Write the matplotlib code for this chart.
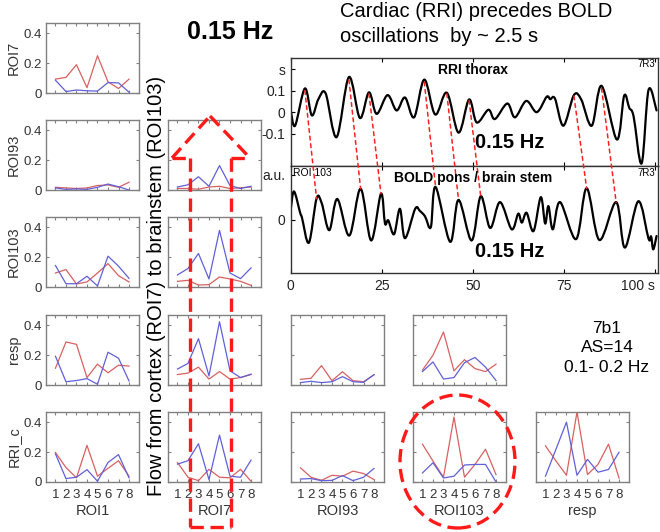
import matplotlib
matplotlib.use("Agg")
import matplotlib.pyplot as plt
from matplotlib.patches import Ellipse, ConnectionPatch, PathPatch
from matplotlib.lines import Line2D
from matplotlib.path import Path

plt.rcParams['font.family'] = ['Liberation Sans', 'DejaVu Sans']

# ---------------- data ----------------
lags = [1, 2, 3, 4, 5, 6, 7, 8]
row_names = ['ROI7', 'ROI93', 'ROI103', 'resp', 'RRI_c']
col_names = ['ROI1', 'ROI7', 'ROI93', 'ROI103', 'resp']

# small panels: red / blue curves, named <row>_<col>
roi7_roi1_red = [0.093, 0.105, 0.19, 0.036, 0.25, 0.075, 0.03, 0.093]
roi7_roi1_blue = [0.086, 0.01, 0.02, 0.015, 0.013, 0.07, 0.068, 0.005]

roi93_roi1_red = [0.018, 0.014, 0.01, 0.014, 0.03, 0.034, 0.018, 0.052]
roi93_roi1_blue = [0.014, 0.004, 0.007, 0.004, 0.018, 0.04, 0.022, 0.0]
roi93_roi7_red = [0.01, 0.01, 0.005, 0.02, 0.025, 0.01, 0.015, 0.02]
roi93_roi7_blue = [0.02, 0.035, 0.089, 0.025, 0.164, 0.03, 0.01, 0.025]

roi103_roi1_red = [0.094, 0.117, 0.02, 0.034, 0.094, 0.157, 0.076, 0.034]
roi103_roi1_blue = [0.144, 0.022, 0.022, 0.072, 0.007, 0.207, 0.14, 0.058]
roi103_roi7_red = [0.038, 0.045, 0.013, 0.016, 0.067, 0.054, 0.038, 0.011]
roi103_roi7_blue = [0.081, 0.124, 0.225, 0.054, 0.38, 0.094, 0.056, 0.128]

resp_roi1_red = [0.113, 0.289, 0.273, 0.05, 0.14, 0.082, 0.133, 0.127]
resp_roi1_blue = [0.193, 0.022, 0.03, 0.043, 0.005, 0.22, 0.18, 0.027]
resp_roi7_red = [0.07, 0.08, 0.12, 0.04, 0.09, 0.04, 0.05, 0.07]
resp_roi7_blue = [0.107, 0.145, 0.311, 0.061, 0.425, 0.095, 0.05, 0.073]
resp_roi93_red = [0.038, 0.045, 0.13, 0.029, 0.089, 0.029, 0.022, 0.069]
resp_roi93_blue = [0.016, 0.025, 0.016, 0.022, 0.056, 0.022, 0.018, 0.069]
resp_roi103_red = [0.10, 0.20, 0.356, 0.095, 0.17, 0.11, 0.09, 0.14]
resp_roi103_blue = [0.09, 0.155, 0.04, 0.05, 0.15, 0.185, 0.12, 0.03]

rric_roi1_red = [0.198, 0.097, 0.028, 0.246, 0.039, 0.092, 0.143, 0.039]
rric_roi1_blue = [0.189, 0.023, 0.032, 0.083, 0.005, 0.131, 0.184, 0.028]
rric_roi7_red = [0.131, 0.032, 0.009, 0.085, 0.032, 0.028, 0.085, 0.005]
rric_roi7_blue = [0.12, 0.143, 0.257, 0.016, 0.315, 0.039, 0.032, 0.147]
rric_roi93_red = [0.095, 0.032, 0.011, 0.045, 0.039, 0.073, 0.057, 0.016]
rric_roi93_blue = [0.02, 0.023, 0.009, 0.011, 0.043, 0.009, 0.032, 0.091]
rric_roi103_red = [0.254, 0.141, 0.032, 0.436, 0.032, 0.118, 0.22, 0.05]
rric_roi103_blue = [0.061, 0.129, 0.027, 0.039, 0.114, 0.118, 0.118, 0.0]
rric_resp_red = [0.243, 0.141, 0.045, 0.47, 0.05, 0.118, 0.254, 0.027]
rric_resp_blue = [0.039, 0.22, 0.402, 0.045, 0.152, 0.066, 0.084, 0.2]

# time series (s, value)
rri_t = [0.0, 1.2, 3.9, 5.8, 7.6, 9.6, 12.6, 16.0, 19.0, 21.5, 23.6, 26.6, 29.1, 31.4,
         33.9, 36.7, 39.7, 42.9, 46.1, 49.0, 51.1, 54.3, 56.1, 59.5, 61.6, 64.7, 67.6,
         70.3, 71.3, 72.6, 74.9, 77.8, 79.8, 82.7, 85.4, 89.6, 91.6, 93.0, 94.2, 96.4,
         98.3, 100.5]
rri_v = [0.01, -0.063, 0.11, -0.015, 0.06, 0.087, -0.116, 0.163, -0.027, 0.092, -0.008,
         0.079, 0.008, 0.068, -0.024, 0.151, -0.011, 0.09, -0.095, 0.059, -0.048, 0.011,
         -0.032, 0.04, -0.024, 0.052, 0.0, 0.071, 0.06, 0.063, -0.063, 0.079, 0.059,
         -0.063, 0.122, -0.127, 0.076, 0.02, -0.02, -0.238, 0.103, 0.008]

bold_t = [0.0, 0.9, 2.6, 3.1, 5.0, 7.1, 8.5, 10.6, 12.8, 16.1, 19.2, 22.1, 24.8, 25.9,
          26.8, 28.4, 30.0, 31.4, 34.2, 35.5, 36.9, 38.5, 39.8, 43.8, 46.1, 49.7, 52.2,
          54.8, 57.5, 60.7, 62.5, 63.5, 64.8, 66.7, 68.7, 69.9, 70.8, 72.0, 74.0, 78.4,
          81.3, 84.8, 89.4, 91.8, 95.5, 98.3, 99.0, 99.6, 100.5]
bold_v = [0.22, 0.63, 0.15, 0.04, -0.52, 0.47, 0.37, -0.24, 0.46, -0.36, 0.69, -0.47,
          0.58, -0.09, -0.02, -0.33, 0.24, -0.42, 0.24, 0.19, 0.07, -0.17, 0.73, -0.50,
          0.44, -0.47, 0.52, -0.19, 0.39, -0.22, 0.13, -0.07, 0.15, -0.26, 0.50, -0.09,
          0.30, -0.22, 0.39, -0.44, 0.70, -0.46, 0.39, -0.63, 0.41, -0.43, -0.38, -0.67,
          -0.37]

# peaks linked by the red dashed lines (RRI peak -> BOLD peak)
link_rri_t = [3.9, 16.0, 21.5, 36.7, 42.9, 49.0, 77.8, 85.4]
link_rri_v = [0.10, 0.15, 0.085, 0.14, 0.085, 0.055, 0.075, 0.11]
link_bold_t = [7.1, 19.2, 24.8, 39.8, 46.1, 52.2, 81.3, 89.4]
link_bold_v = [0.47, 0.69, 0.58, 0.73, 0.44, 0.52, 0.70, 0.39]

panels = [
    (0, 0, roi7_roi1_red, roi7_roi1_blue),
    (1, 0, roi93_roi1_red, roi93_roi1_blue),
    (1, 1, roi93_roi7_red, roi93_roi7_blue),
    (2, 0, roi103_roi1_red, roi103_roi1_blue),
    (2, 1, roi103_roi7_red, roi103_roi7_blue),
    (3, 0, resp_roi1_red, resp_roi1_blue),
    (3, 1, resp_roi7_red, resp_roi7_blue),
    (3, 2, resp_roi93_red, resp_roi93_blue),
    (3, 3, resp_roi103_red, resp_roi103_blue),
    (4, 0, rric_roi1_red, rric_roi1_blue),
    (4, 1, rric_roi7_red, rric_roi7_blue),
    (4, 2, rric_roi93_red, rric_roi93_blue),
    (4, 3, rric_roi103_red, rric_roi103_blue),
    (4, 4, rric_resp_red, rric_resp_blue),
]

# ---------------- layout (pixels) ----------------
W, H = 660, 532
fig = plt.figure(figsize=(W / 100, H / 100), dpi=100)


def px_axes(x, y, w, h):
    return fig.add_axes([x / W, 1 - (y + h) / H, w / W, h / H])


def px_text(x, y, s, **kw):
    return fig.text(x / W, 1 - y / H, s, **kw)


def smooth_line(ax, xs, ys, **kw):
    # draw the read points as one smooth curve (Catmull-Rom as cubic Beziers)
    pts = list(zip(xs, ys))
    verts = [pts[0]]
    codes = [Path.MOVETO]
    n = len(pts)
    for i in range(n - 1):
        p0 = pts[max(i - 1, 0)]
        p1 = pts[i]
        p2 = pts[i + 1]
        p3 = pts[min(i + 2, n - 1)]
        c1 = (p1[0] + (p2[0] - p0[0]) / 6, p1[1] + (p2[1] - p0[1]) / 6)
        c2 = (p2[0] - (p3[0] - p1[0]) / 6, p2[1] - (p3[1] - p1[1]) / 6)
        verts += [c1, c2, p2]
        codes += [Path.CURVE4] * 3
    patch = PathPatch(Path(verts, codes), fill=False, transform=ax.transData,
                      capstyle='round', joinstyle='round', **kw)
    patch.set_clip_path(ax.patch)
    ax.add_patch(patch)


RED = '#d96060'
BLUE = '#6060d8'
GRAY = '#808080'
col_x = [46, 168, 291, 413, 536]
row_y = [23, 120, 217, 315, 412]
pw, ph = 93, 70

for r, c, red, blue in panels:
    ax = px_axes(col_x[c], row_y[r], pw, ph)
    ax.plot(lags, red, color=RED, lw=0.9)
    ax.plot(lags, blue, color=BLUE, lw=0.9)
    ax.set_xlim(0.1, 8.95)
    ax.set_ylim(0, 0.47)
    ax.set_xticks(lags)
    ax.set_yticks([0, 0.2, 0.4])
    ax.set_yticklabels(['0', '0.2', '0.4'])
    ax.tick_params(direction='in', length=2, top=True, right=True, color=GRAY,
                   labelcolor='#333333', labelsize=9.5)
    ax.tick_params(axis='x', pad=5)
    ax.tick_params(axis='y', pad=3)
    for s in ax.spines.values():
        s.set_color(GRAY)
        s.set_linewidth(1.0)
    if c == 0:
        ax.set_ylabel(row_names[r], fontsize=10.5, color='#333333', labelpad=2)
    else:
        ax.set_yticklabels([])
    if r == 4:
        ax.set_xlabel(col_names[c], fontsize=10.5, color='#333333', labelpad=2)
    else:
        ax.set_xticklabels([])

# time series panels
ax_top = px_axes(290.7, 58.3, 367.3, 107.7)
ax_bot = px_axes(290.7, 166, 367.3, 107)
smooth_line(ax_top, rri_t, rri_v, edgecolor='black', lw=1.6)
smooth_line(ax_bot, bold_t, bold_v, edgecolor='black', lw=1.6)
ax_top.set_ylim(-0.25, 0.25)
ax_top.set_yticks([-0.1, 0, 0.1, 0.2])
ax_top.set_yticklabels(['-0.1', '0', '0.1', 's'])
ax_bot.set_ylim(-1.2, 1.2)
ax_bot.set_yticks([0, 1.0])
ax_bot.set_yticklabels(['0', 'a.u.'])
for ax in (ax_top, ax_bot):
    ax.set_xlim(0, 100.9)
    ax.set_xticks([0, 25, 50, 75, 100])
    ax.tick_params(direction='in', length=3, top=True, labelsize=10,
                   labelcolor='#222222', pad=4)
    for s in ax.spines.values():
        s.set_linewidth(1.0)
        s.set_color('#333333')
ax_top.set_xticklabels([])
ax_bot.set_xticklabels(['0', '25', '50', '75', '100 s'])
ax_bot.get_xticklabels()[-1].set_horizontalalignment('right')

for t1, v1, t2, v2 in zip(link_rri_t, link_rri_v, link_bold_t, link_bold_v):
    con = ConnectionPatch(xyA=(t1, v1), coordsA=ax_top.transData,
                          xyB=(t2, v2), coordsB=ax_bot.transData,
                          color='#ff2020', lw=1.1, linestyle=(0, (2.5, 2.5)))
    fig.add_artist(con)

# texts in the time series panels
px_text(473, 70, 'RRI thorax', ha='center', va='center', fontsize=10, fontweight='bold')
px_text(655, 64, '7R3', ha='right', va='center', fontsize=7)
px_text(510, 142, '0.15 Hz', ha='center', va='center', fontsize=14.5, fontweight='bold')
px_text(293, 173, 'ROI 103', ha='left', va='center', fontsize=7.5)
px_text(473, 178, 'BOLD pons / brain stem', ha='center', va='center', fontsize=10,
        fontweight='bold')
px_text(655, 173, '7R3', ha='right', va='center', fontsize=7)
px_text(510, 252, '0.15 Hz', ha='center', va='center', fontsize=14.5, fontweight='bold')

# headings
px_text(230, 32, '0.15 Hz', ha='center', va='center', fontsize=18, fontweight='bold')
px_text(340, 24, 'Cardiac (RRI) precedes BOLD\noscillations  by ~ 2.5 s', ha='left',
        va='center', fontsize=14.5, linespacing=1.35)
px_text(607, 348, '7b1\nAS=14\n0.1- 0.2 Hz', ha='center', va='center', fontsize=12.5,
        linespacing=1.4)
px_text(156, 286, 'Flow from cortex (ROI7) to brainstem (ROI103)', rotation=90,
        ha='center', va='center', fontsize=14.5)

# red dashed arrow over the ROI7 column
arrow_red = '#ff1a1a'
dash = (0, (4, 2))
segments = [
    ((190, 158), (190, 527)),
    ((231, 158), (231, 527)),
    ((190, 527), (231, 527)),
    ((172, 158), (190, 158)),
    ((231, 158), (250, 158)),
    ((172, 158), (210, 116)),
    ((210, 116), (250, 158)),
]
for (x0, y0), (x1, y1) in segments:
    fig.add_artist(Line2D([x0 / W, x1 / W], [1 - y0 / H, 1 - y1 / H],
                          transform=fig.transFigure, color=arrow_red, lw=2.4,
                          linestyle=dash))

# red dashed ellipse around ROI103 column
fig.add_artist(Ellipse((457.5 / W, 1 - 461.5 / H), 115 / W, 133 / H,
                       transform=fig.transFigure, fill=False, edgecolor=arrow_red,
                       lw=2.4, linestyle=dash))

fig.savefig('out.png', dpi=100)
